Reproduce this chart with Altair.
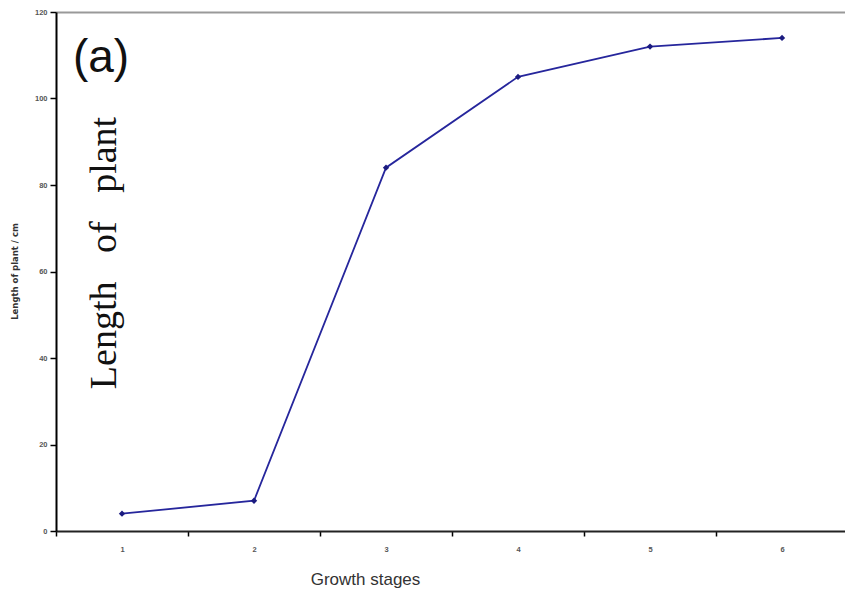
import altair as alt
import pandas as pd

# Plant length (cm) at each growth stage
stages = [1, 2, 3, 4, 5, 6]
lengths = [4, 7, 84, 105, 112, 114]

df = pd.DataFrame({"stage": stages, "length": lengths})

x_scale = alt.Scale(domain=[0.5, 6.477], nice=False, zero=False)
y_scale = alt.Scale(domain=[0, 120], nice=False)

tick_values = [0.5, 1, 1.5, 2, 2.5, 3, 3.5, 4, 4.5, 5, 5.5, 6, 6.5]

y_axis = alt.Axis(
    values=[0, 20, 40, 60, 80, 100, 120],
    grid=False,
    domainColor="#000000",
    domainWidth=2,
    ticks=True,
    tickColor="#000000",
    tickOpacity=1,
    tickWidth=1.5,
    tickSize=6,
    labelFont="Liberation Sans",
    labelFontSize=7.5,
    labelFontWeight="bold",
    labelColor="#555555",
    labelPadding=3,
    title="Length of plant / cm",
    titleFont="DejaVu Sans",
    titleFontSize=8.5,
    titleFontWeight="bold",
    titleColor="#333333",
    titleAngle=270,
    titleAlign="center",
    titleBaseline="middle",
    titleX=-42,
    titleY=259,
)

x_axis_bottom = alt.Axis(
    orient="bottom",
    values=tick_values,
    grid=False,
    domainColor="#222222",
    domainWidth=2,
    tickColor="#000000",
    tickWidth=1.5,
    tickSize=5,
    tickOpacity={"condition": {"test": "datum.value % 1 === 0", "value": 0}, "value": 1},
    labelExpr="datum.value % 1 === 0 ? '' + datum.value : ''",
    labelOverlap=False,
    labelFont="Liberation Sans",
    labelFontSize=7.5,
    labelFontWeight="bold",
    labelColor="#555555",
    labelPadding=9,
    labelBaseline="top",
    title="Growth stages",
    titleFont="Liberation Sans",
    titleFontSize=17,
    titleFontWeight="normal",
    titleColor="#333333",
    titleAlign="center",
    titleBaseline="alphabetic",
    titleX=309,
    titleY=53,
)

x_axis_top = alt.Axis(
    orient="top",
    grid=False,
    domainColor="#999999",
    domainWidth=2,
    ticks=False,
    labels=False,
    title=None,
)

line = alt.Chart(df).mark_line(color="#26269c", strokeWidth=1.8).encode(
    x=alt.X("stage:Q", scale=x_scale, axis=x_axis_bottom),
    y=alt.Y("length:Q", scale=y_scale, axis=y_axis),
)

points = alt.Chart(df).mark_point(
    shape="diamond", filled=True, size=40, color="#1b1b80", opacity=1
).encode(
    x=alt.X("stage:Q", scale=x_scale, axis=x_axis_top),
    y=alt.Y("length:Q", scale=y_scale),
)

panel_label = alt.Chart(pd.DataFrame({"t": ["(a)"]})).mark_text(
    font="Liberation Sans", fontSize=46, color="#111111",
    align="center", baseline="middle",
).encode(text="t:N", x=alt.value(45), y=alt.value(46))

side_label = alt.Chart(
    pd.DataFrame({"t": ["Length\u00a0\u00a0\u00a0of\u00a0\u00a0\u00a0plant"]})
).mark_text(
    font="Liberation Serif", fontSize=38, color="#111111",
    align="center", baseline="middle", angle=270,
).encode(text="t:N", x=alt.value(49), y=alt.value(241))

chart = (
    alt.layer(line, points, panel_label, side_label)
    .resolve_axis(x="independent")
    .properties(
        width=789,
        height=519,
        autosize=alt.AutoSizeParams(type="none"),
        padding={"left": 56, "top": 12, "right": 0, "bottom": 65},
        background="white",
    )
    .configure_view(stroke=None)
)

chart.save("out.html", embed_options={"renderer": "svg", "actions": False})
